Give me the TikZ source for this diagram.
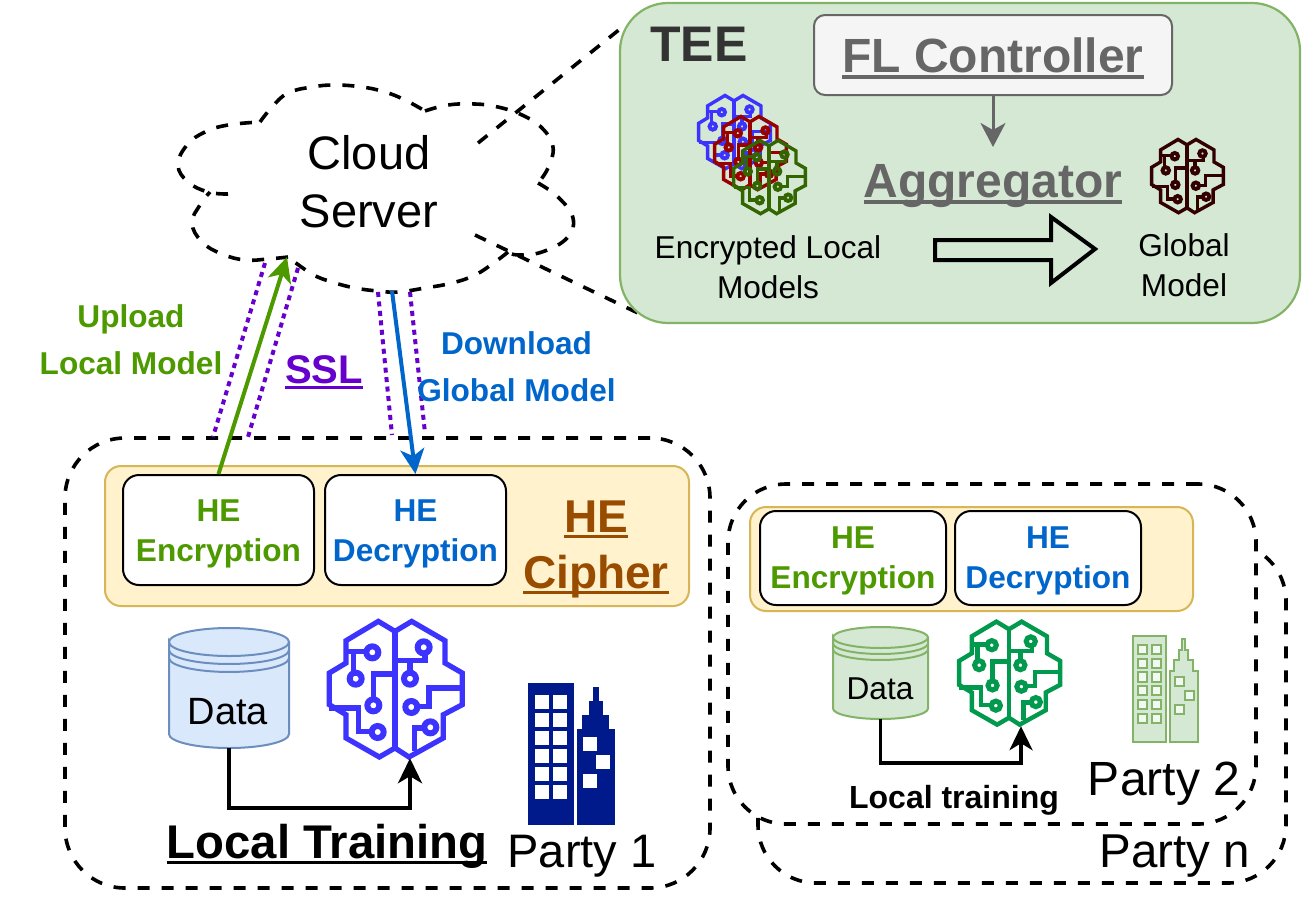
\documentclass[tikz,border=0pt]{standalone}
\usepackage{fontspec}
\setmainfont{Liberation Sans}
\usetikzlibrary{arrows.meta}
\definecolor{upgreen}{HTML}{4D9900}
\definecolor{downblue}{HTML}{0066CC}
\definecolor{sslpurple}{HTML}{6600CC}
\definecolor{cipherbrown}{HTML}{994C00}
\definecolor{yelfill}{HTML}{FFF2CC}
\definecolor{yelline}{HTML}{D6B656}
\definecolor{grnfill}{HTML}{D5E8D4}
\definecolor{grnline}{HTML}{82B366}
\definecolor{blufill}{HTML}{DAE8FC}
\definecolor{bluline}{HTML}{6C8EBF}
\definecolor{brainblue}{HTML}{3D33FF}
\definecolor{brainred}{HTML}{990000}
\definecolor{braingreen}{HTML}{336600}
\definecolor{brainteal}{HTML}{00994D}
\definecolor{braindark}{HTML}{330000}
\definecolor{towerblue}{HTML}{001A8C}
\definecolor{greytxt}{HTML}{666666}
\definecolor{darktxt}{HTML}{333333}
\newcommand\ulbox[1]{\sbox0{#1}\rlap{\rule[-0.13em]{\wd0}{0.075em}}#1}
\newcommand\dn[2]{\raisebox{-#1pt}[\height][\depth]{#2}}
% #1 x, #2 y, #3 scale, #4 colour, #5 line width
\newcommand\brainicon[5]{%
\begin{scope}[shift={(#1,#2)},x=#3pt,y=-#3pt,shift={(-255,-238)},draw=#4,line width=#5pt,line join=miter]
\draw (255,65) -- (205,35) -- (108,93) -- (108,160) -- (58,190) -- (58,285) -- (108,315) -- (108,385) -- (208,442) -- (255,415) -- (297,442) -- (400,385) -- (400,315) -- (457,285) -- (457,190) -- (405,160) -- (405,93) -- (305,35) -- cycle;
\draw (255,65) -- (255,415);
\draw (108,125) -- (170,125);
\draw (130,125) -- (130,187);
\draw (190,269) -- (190,193) -- (255,193);
\draw (58,295) -- (145,295) -- (145,365) -- (185,365);
\draw (255,152) -- (345,152) -- (345,130);
\draw (300,152) -- (300,189);
\draw (457,235) -- (357,235) -- (357,290) -- (322,290);
\draw (313,425) -- (313,355) -- (343,355);
\draw[line width=1.15*#5pt] (187,128) circle[radius=18] (137,207) circle[radius=18] (190,287) circle[radius=18] (203,367) circle[radius=18] (341,113) circle[radius=18] (300,207) circle[radius=18] (304,292) circle[radius=18] (361,353) circle[radius=18];
\end{scope}}
% #1 x, #2 y, #3 scale, #4 body fill, #5 body line, #6 window fill, #7 window line, #8 line width
\newcommand\towers[8]{%
\begin{scope}[shift={(#1,#2)},x=#3pt,y=-#3pt,line width=#8pt]
\draw[fill=#4,draw=#5] (0,0) rectangle (44,140);
\draw[fill=#4,draw=#5] (49,140) -- (49,46) -- (54,46) -- (54,32) -- (61,32) -- (61,18) -- (65,18) -- (65,4) -- (69,4) -- (69,18) -- (73,18) -- (73,32) -- (79,32) -- (79,46) -- (85,46) -- (85,140) -- cycle;
\foreach \wy in {12,30,48,66,84,102}{
\draw[fill=#6,draw=#7] (7,\wy) rectangle ++(12,12);
\draw[fill=#6,draw=#7] (25,\wy) rectangle ++(12,12);}
\draw[fill=#6,draw=#7] (55,54) rectangle ++(12,12);
\draw[fill=#6,draw=#7] (68,72) rectangle ++(12,12);
\draw[fill=#6,draw=#7] (55,91) rectangle ++(12,12);
\end{scope}}
% #1 left, #2 top, #3 width, #4 height, #5 ry, #6 fill, #7 line
\newcommand\datacyl[7]{%
\begin{scope}[shift={(#1,#2)},draw=#7,line width=2pt]
\fill[#6] (0,#5) arc[x radius=#3/2,y radius=#5,start angle=180,end angle=360] -- (#3,#4-#5) arc[x radius=#3/2,y radius=#5,start angle=0,end angle=180] -- cycle;
\draw (0,#5) arc[x radius=#3/2,y radius=#5,start angle=180,end angle=360] arc[x radius=#3/2,y radius=#5,start angle=0,end angle=180] -- (0,#4-#5) arc[x radius=#3/2,y radius=#5,start angle=180,end angle=0] -- (#3,#5);
\draw (0,#5+#5*0.57) arc[x radius=#3/2,y radius=#5,start angle=180,end angle=0];
\draw (0,#5+#5*1.14) arc[x radius=#3/2,y radius=#5,start angle=180,end angle=0];
\end{scope}}
\tikzset{
  partybox/.style={draw=black,fill=white,line width=3.6pt,dash pattern=on 12pt off 12pt,rounded corners=58pt,inner sep=0pt},
  band/.style={draw=yelline,fill=yelfill,line width=2pt,rounded corners=16pt,inner sep=0pt},
  hebox/.style={draw=black,fill=white,line width=2pt,rounded corners=16pt,inner sep=0pt,align=center,font=\fontsize{31.6}{40}\selectfont\bfseries},
  txt/.style={inner sep=0pt,align=center,font=\fontsize{31.6}{40}\selectfont},
  btxt/.style={inner sep=0pt,align=center,font=\fontsize{31.6}{47}\selectfont\bfseries},
  big/.style={inner sep=0pt,align=center,font=\fontsize{46}{58}\selectfont},
  bigb/.style={inner sep=0pt,align=center,font=\fontsize{48}{56}\selectfont\bfseries},
  anchorbox/.style={inner sep=0pt,minimum size=0pt},
  dashline/.style={line width=3.6pt,dash pattern=on 12pt off 12pt},
  dotline/.style={draw=sslpurple,line width=4pt,dash pattern=on 5pt off 4.5pt},
  conn/.style={line width=4pt,-{Stealth[length=25pt,width=24pt,inset=7pt]}},
}
\begin{document}
\begin{tikzpicture}[x=1pt,y=-1pt]
\useasboundingbox (0,0) rectangle (1305,897);
% cloud
\draw[dashline,line join=round]
 plot[smooth,tension=.7] coordinates {(228,194)(208,192)(188,182)(178,165)(187,145)(205,132)(228,125)(260,122)}
 plot[smooth,tension=.7] coordinates {(260,122)(272,107)(288,93)(312,87)(335,85)(362,87)(385,92)(405,100)(425,111)}
 plot[smooth,tension=.7] coordinates {(425,111)(448,105)(475,104)(498,107)(522,115)(542,128)(553,147)(548,168)(538,183)}
 plot[smooth,tension=.7] coordinates {(538,183)(558,197)(573,218)(567,238)(542,252)(518,255)(508,252)}
 plot[smooth,tension=.7] coordinates {(508,252)(495,262)(475,275)(452,283)(425,288)(398,292)(378,291)(355,288)(332,282)(312,274)(288,257)}
 plot[smooth,tension=.7] coordinates {(288,257)(268,259)(245,260)(222,254)(202,242)(192,223)(200,205)(210,192)};
\node[big,font=\fontsize{47}{58}\selectfont] (cloudtxt) at (369,182) {Cloud\\Server};
\coordinate (zoomtopa) at (478,143);
\coordinate (zoomtopb) at (625,25);
\coordinate (zoombota) at (475,235);
\coordinate (zoombotb) at (640,314);
\draw[dashline] (zoomtopa) -- (zoomtopb);
\draw[dashline] (zoombota) -- (zoombotb);
% TEE
\node[draw=grnline,fill=grnfill,line width=2.2pt,rounded corners=48pt,minimum width=680pt,minimum height=320pt,inner sep=0pt] (tee) at (960,163) {};
\node[inner sep=0pt,text=darktxt,font=\fontsize{50}{56}\selectfont\bfseries] (teelabel) at (699,44) {TEE};
\node[draw=greytxt,fill=white!96!black,line width=2pt,rounded corners=11pt,minimum width=358pt,minimum height=80pt,inner sep=0pt,text=greytxt,font=\fontsize{48}{56}\selectfont\bfseries] (fl) at (993,55) {\dn{3}{\ulbox{FL Controller}}};
\node[bigb,text=greytxt] (aggr) at (993,186) {\ulbox{Aggregator}};
\coordinate (aggin) at (993,147);
\draw[draw=greytxt,line width=3pt,-{Stealth[length=24pt,width=25pt,inset=7pt]}] (fl.south) -- (aggin);
\brainicon{734}{132}{0.18}{brainblue}{3.4}
\brainicon{750}{153}{0.18}{brainred}{3.4}
\brainicon{769}{177}{0.18}{braingreen}{3.4}
\brainicon{1187}{176}{0.18}{braindark}{3.4}
\node[txt] (enc) at (768,267) {Encrypted Local\\Models};
\node[txt] (glob) at (1184,265) {Global\\Model};
\draw[line width=4pt,line join=miter,miter limit=10] (935,240) -- (1051,240) -- (1051,217) -- (1095,249) -- (1051,283) -- (1051,260) -- (935,260) -- cycle;
% Party n and Party 2
\node[partybox,minimum width=528pt,minimum height=340pt] (partyn) at (1022,713) {};
\node[partybox,minimum width=528pt,minimum height=340pt] (party2) at (992,654) {};
\node[band,minimum width=443pt,minimum height=104pt] (band2) at (971.5,559) {};
\node[hebox,minimum width=186pt,minimum height=94pt,text=upgreen] (enc2) at (853,558) {\dn{3}{HE}\\\dn{3}{Encryption}};
\node[hebox,minimum width=186pt,minimum height=94pt,text=downblue] (dec2) at (1048,558) {\dn{3}{HE}\\\dn{3}{Decryption}};
\datacyl{833}{627}{95}{92}{10.5}{grnfill}{grnline}
\node[anchorbox,minimum width=95pt,minimum height=92pt] (data2) at (880.5,673) {};
\node[inner sep=0pt,font=\fontsize{31.6}{36}\selectfont] (data2txt) at (880,689) {Data};
\brainicon{1009}{673}{0.253}{brainteal}{4.4}
\node[anchorbox,minimum width=105pt,minimum height=105pt] (brain2) at (1021,673.5) {};
\coordinate (corner2) at (data2.south |- 0,763);
\draw[conn,line width=3.6pt,-{Stealth[length=24pt,width=23pt,inset=7pt]},line join=miter] (data2.south) |- (brain2.south |- corner2) -- (brain2.south);
\towers{1133}{636}{0.76}{grnfill}{grnline}{white!70!grnfill}{grnline}{2}
\node[inner sep=0pt,font=\fontsize{48}{50}\selectfont] (p2) at (1164,784) {Party 2};
\node[inner sep=0pt,font=\fontsize{47.5}{50}\selectfont] (pn) at (1175,856) {Party n};
\node[inner sep=0pt,font=\fontsize{32}{40}\selectfont\bfseries] (lt2) at (954,800) {Local training};
% Party 1
\node[partybox,rounded corners=60pt,minimum width=645pt,minimum height=450pt] (party1) at (387.5,663) {};
\node[band,minimum width=584pt,minimum height=140pt] (band1) at (397,536) {};
\node[hebox,minimum width=191pt,minimum height=110pt,text=upgreen] (enc1) at (218.5,530) {\dn{4}{HE}\\\dn{4}{Encryption}};
\node[hebox,minimum width=181pt,minimum height=110pt,text=downblue] (dec1) at (415.5,530) {\dn{4}{HE}\\\dn{4}{Decryption}};
\node[inner sep=0pt,align=center,text=cipherbrown,font=\fontsize{46}{56}\selectfont\bfseries] (cipher) at (596,549) {\ulbox{HE}\\\ulbox{Cipher}};
\datacyl{169}{628}{120}{120}{14}{blufill}{bluline}
\node[anchorbox,minimum width=120pt,minimum height=120pt] (data1) at (229,688) {};
\node[inner sep=0pt,font=\fontsize{38}{44}\selectfont] (data1txt) at (228,712) {Data};
\brainicon{395}{689}{0.3333}{brainblue}{5.2}
\node[anchorbox,minimum width=138pt,minimum height=138pt] (brain1) at (410,689) {};
\coordinate (corner1) at (data1.south |- 0,808);
\draw[conn,line join=miter] (data1.south) |- (brain1.south |- corner1) -- (brain1.south);
\towers{529}{684}{1}{towerblue}{towerblue}{white}{white}{1.5}
\node[inner sep=0pt,font=\fontsize{47.3}{56}\selectfont\bfseries] (lt1) at (327,846) {\ulbox{Local Training}};
\node[inner sep=0pt,font=\fontsize{47}{50}\selectfont] (p1) at (582,856) {Party 1};
% SSL and connectors
\coordinate (sa1) at (265,263); \coordinate (sa2) at (213,437);
\coordinate (sb1) at (298,268); \coordinate (sb2) at (248,437);
\coordinate (sc1) at (378,292); \coordinate (sc2) at (392,435);
\coordinate (sd1) at (410,292); \coordinate (sd2) at (425,433);
\draw[dotline] (sa1) -- (sa2);
\draw[dotline] (sb1) -- (sb2);
\draw[dotline] (sc1) -- (sc2);
\draw[dotline] (sd1) -- (sd2);
\coordinate (uptip) at (287,257);
\coordinate (downstart) at (392,291);
\draw[conn,draw=upgreen,fill=upgreen] (enc1.north) -- (uptip);
\draw[conn,draw=downblue,fill=downblue] (downstart) -- (dec1.north);
\node[btxt,text=upgreen] (uplabel) at (131,339.5) {Upload\\Local Model};
\node[btxt,text=downblue] (downlabel) at (516.5,366.5) {Download\\Global Model};
\node[inner sep=0pt,text=sslpurple,font=\fontsize{40}{46}\selectfont\bfseries] (ssl) at (324,372) {\ulbox{SSL}};
\end{tikzpicture}
\end{document}
